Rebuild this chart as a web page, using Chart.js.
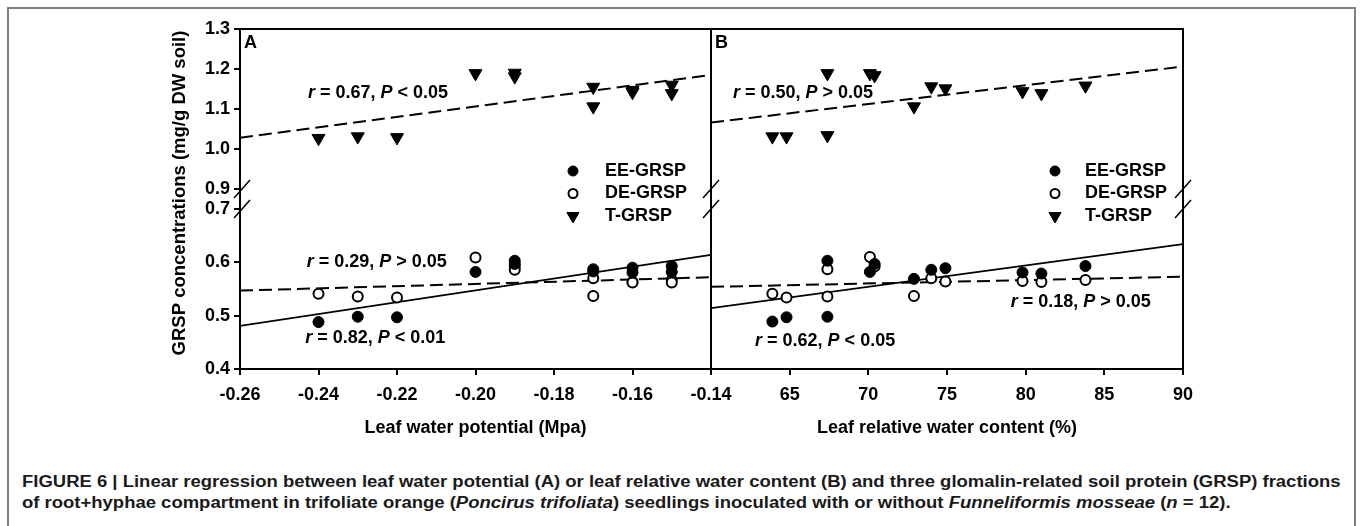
<!DOCTYPE html>
<html>
<head>
<meta charset="utf-8">
<title>GRSP regression</title>
<script src="https://cdn.jsdelivr.net/npm/chart.js@4.4.1/dist/chart.umd.min.js"></script>
<style>
  html, body { margin: 0; padding: 0; background: #fff; }
  body { width: 1360px; height: 526px; position: relative; overflow: hidden;
         font-family: "Liberation Sans", Arial, Helvetica, sans-serif; }
  #frame { position: absolute; left: 7px; top: 7px; width: 1349px; height: 540px;
           border: 2px solid #808080; border-bottom: none; box-sizing: border-box; }
  #chartA { position: absolute; left: 0; top: 0; }
  #chartB { position: absolute; left: 700px; top: 0; }
  #caption { position: absolute; left: 22px; top: 471px; font-weight: bold; font-size: 16px;
             line-height: 21px; color: #1a1a1a; white-space: nowrap;
             transform: scaleX(1.155); transform-origin: 0 0; }
</style>
</head>
<body>
<div id="frame"></div>
<canvas id="chartA" width="760" height="440"></canvas>
<canvas id="chartB" width="660" height="440"></canvas>
<div id="caption">FIGURE 6 | Linear regression between leaf water potential (A) or leaf relative water content (B) and three glomalin-related soil protein (GRSP) fractions<br>of root+hyphae compartment in trifoliate orange (<i>Poncirus trifoliata</i>) seedlings inoculated with or without <i>Funneliformis mosseae</i> (<i>n</i> = 12).</div>
<script>
// --- data ---
const lwp = [-0.24, -0.23, -0.22, -0.20, -0.19, -0.19, -0.17, -0.17, -0.16, -0.16, -0.15, -0.15];
const eeA = [0.488, 0.498, 0.497, 0.582, 0.603, 0.597, 0.587, 0.583, 0.590, 0.581, 0.593, 0.582];
const deA = [0.541, 0.536, 0.534, 0.609, 0.592, 0.586, 0.570, 0.537, 0.563, 0.562, 0.567, 0.562];
const tA  = [1.027, 1.031, 1.029, 1.189, 1.190, 1.181, 1.155, 1.106, 1.147, 1.142, 1.160, 1.139];

const rwc = [63.9, 64.8, 67.4, 67.4, 70.1, 70.4, 72.9, 74.0, 74.9, 79.8, 81.0, 83.8];
const eeB = [0.489, 0.497, 0.498, 0.603, 0.582, 0.597, 0.569, 0.586, 0.589, 0.581, 0.579, 0.593];
const deB = [0.541, 0.534, 0.536, 0.587, 0.610, 0.592, 0.537, 0.570, 0.564, 0.565, 0.563, 0.567];
const tB  = [1.031, 1.031, 1.034, 1.189, 1.189, 1.184, 1.106, 1.156, 1.151, 1.144, 1.139, 1.158];

// regression lines: value at each end of the x range
const lwpRange = [-0.26, -0.14];
const eeFitA = [0.481, 0.614];
const deFitA = [0.547, 0.572];
const tFitA  = [1.028, 1.185];
const rwcRange = [60, 90];
const eeFitB = [0.514, 0.634];
const deFitB = [0.554, 0.573];
const tFitB  = [1.066, 1.206];

const lwpTicks = [-0.26, -0.24, -0.22, -0.20, -0.18, -0.16, -0.14];
const rwcTicks = [65, 70, 75, 80, 85, 90];
const yLoTicks = [0.4, 0.5, 0.6, 0.7];
const yHiTicks = [0.9, 1.0, 1.1, 1.2, 1.3];
const seriesNames = ['EE-GRSP', 'DE-GRSP', 'T-GRSP'];

const FONT = '"Liberation Sans", Arial, Helvetica, sans-serif';
Chart.defaults.font.family = FONT;
Chart.defaults.color = '#000';

const pts = (xs, ys) => xs.map((x, i) => ({ x: x, y: ys[i] }));

function panelDatasets(xs, ee, de, t, range, eeFit, deFit, tFit) {
    return [
        { label: seriesNames[0], data: pts(xs, ee), yAxisID: 'yLo', pointStyle: 'circle', pointRadius: 5.5,
          pointBackgroundColor: '#000', pointBorderColor: '#000', pointBorderWidth: 1 },
        { label: seriesNames[1], data: pts(xs, de), yAxisID: 'yLo', pointStyle: 'circle', pointRadius: 5,
          pointBackgroundColor: '#fff', pointBorderColor: '#000', pointBorderWidth: 2 },
        { label: seriesNames[2], data: pts(xs, t), yAxisID: 'yHi', pointStyle: 'triangle', pointRotation: 180,
          pointRadius: 7.5, pointBackgroundColor: '#000', pointBorderColor: '#000', pointBorderWidth: 1 },
        { label: 'fit', data: pts(range, eeFit), yAxisID: 'yLo', showLine: true, pointRadius: 0,
          borderColor: '#000', borderWidth: 1.8 },
        { label: 'fit', data: pts(range, deFit), yAxisID: 'yLo', showLine: true, pointRadius: 0,
          borderColor: '#000', borderWidth: 2, borderDash: [13, 6] },
        { label: 'fit', data: pts(range, tFit), yAxisID: 'yHi', showLine: true, pointRadius: 0,
          borderColor: '#000', borderWidth: 2, borderDash: [13, 6] },
    ];
}

function xAxis(range, ticks, digits, title) {
    return {
        type: 'linear', position: 'bottom', min: range[0], max: range[1],
        afterBuildTicks: s => { s.ticks = ticks.map(v => ({ value: v })); },
        afterFit: s => { s.height = 71; },
        ticks: { font: { size: 18, weight: 'bold' }, padding: 9, maxRotation: 0,
                 callback: v => v.toFixed(digits) },
        grid: { drawOnChartArea: false, tickLength: 6, color: '#000', lineWidth: 2 },
        border: { display: true, color: '#000', width: 2 },
        title: { display: true, text: title, font: { size: 18, weight: 'bold' }, padding: { top: 0, bottom: 1 } }
    };
}

function yAxis(min, max, ticks, weight, show) {
    return {
        type: 'linear', position: 'left', stack: 'gr', stackWeight: weight, min: min, max: max,
        afterBuildTicks: s => { s.ticks = ticks.map(v => ({ value: v })); },
        afterFit: s => { s.width = show ? 240 : 0; },
        ticks: { display: show, font: { size: 18, weight: 'bold' }, padding: 4, callback: v => v.toFixed(1) },
        grid: { display: show, drawOnChartArea: false, tickLength: 6, color: '#000', lineWidth: 2 },
        border: { display: show, color: '#000', width: 2 }
    };
}

// frame, axis breaks, r/P notes, legend, panel letter
function decor(cfg) {
    return {
        id: 'decor',
        afterDatasetsDraw(chart) {
            const { ctx, chartArea: a, scales: s } = chart;
            ctx.save();
            ctx.strokeStyle = '#000';
            ctx.fillStyle = '#000';
            ctx.lineWidth = 2;
            ctx.beginPath();
            ctx.moveTo(a.left, a.top);
            ctx.lineTo(a.right, a.top);
            ctx.lineTo(a.right, a.bottom);
            ctx.stroke();

            ctx.lineWidth = 1.5;
            const by = [s.yHi.getPixelForValue(yHiTicks[0]), s.yLo.getPixelForValue(yLoTicks[yLoTicks.length - 1])];
            cfg.breaks.forEach(side => {
                const bx = side === 'left' ? a.left + 2 : a.right;
                by.forEach(y => {
                    ctx.beginPath();
                    ctx.moveTo(bx - 8, y + 9);
                    ctx.lineTo(bx + 8, y - 9);
                    ctx.stroke();
                });
            });

            ctx.textBaseline = 'middle';
            ctx.textAlign = 'left';
            cfg.notes.forEach(n => {
                let x = s.x.getPixelForValue(n.x);
                const y = s[n.axis].getPixelForValue(n.y);
                n.parts.forEach((p, i) => {
                    ctx.font = (i % 2 === 0 ? 'italic ' : '') + 'bold 18px ' + FONT;
                    ctx.fillText(p, x, y);
                    x += ctx.measureText(p).width;
                });
            });

            chart.data.datasets.slice(0, 3).forEach((d, i) => {
                const y = a.top + 142 + i * 22.5;
                ctx.fillStyle = d.pointBackgroundColor;
                ctx.strokeStyle = d.pointBorderColor;
                ctx.lineWidth = d.pointBorderWidth;
                Chart.helpers.drawPoint(ctx, {
                    pointStyle: d.pointStyle, rotation: d.pointRotation || 0,
                    radius: i === 1 ? 4.5 : d.pointRadius - 0.5, borderWidth: d.pointBorderWidth
                }, a.right - cfg.legendMarker, y);
                ctx.fillStyle = '#000';
                ctx.font = 'bold 18px ' + FONT;
                ctx.fillText(d.label, a.right - cfg.legendText, y);
            });

            ctx.font = 'bold 18px ' + FONT;
            ctx.fillText(cfg.letter, a.left + 4, a.top + 14);

            if (cfg.yTitle) {
                ctx.translate(a.left - 60, (a.top + a.bottom) / 2 - 6);
                ctx.rotate(-Math.PI / 2);
                ctx.textAlign = 'center';
                ctx.font = 'bold 18.5px ' + FONT;
                ctx.fillText(cfg.yTitle, 0, 0);
            }
            ctx.restore();
        }
    };
}

function makePanel(id, datasets, xScale, showY, padding, cfg) {
    return new Chart(document.getElementById(id), {
        type: 'scatter',
        data: { datasets: datasets },
        options: {
            responsive: false,
            animation: false,
            devicePixelRatio: 1,
            layout: { padding: padding, autoPadding: false },
            scales: {
                x: xScale,
                yLo: yAxis(0.4, 0.7, yLoTicks, 160, showY),
                yHi: yAxis(0.85, 1.3, yHiTicks, 180, showY)
            },
            plugins: { legend: { display: false }, tooltip: { enabled: false } }
        },
        plugins: [decor(cfg)]
    });
}

makePanel('chartA',
    panelDatasets(lwp, eeA, deA, tA, lwpRange, eeFitA, deFitA, tFitA),
    xAxis(lwpRange, lwpTicks, 2, 'Leaf water potential (Mpa)'),
    true, { left: 0, top: 29, right: 49, bottom: 0 },
    {
        letter: 'A', breaks: ['left', 'right'], legendMarker: 138, legendText: 106,
        yTitle: 'GRSP concentrations (mg/g DW soil)',
        notes: [
            { x: -0.2427, y: 1.14, axis: 'yHi', parts: ['r', ' = 0.67, ', 'P', ' < 0.05'] },
            { x: -0.243, y: 0.6006, axis: 'yLo', parts: ['r', ' = 0.29, ', 'P', ' > 0.05'] },
            { x: -0.2434, y: 0.458, axis: 'yLo', parts: ['r', ' = 0.82, ', 'P', ' < 0.01'] }
        ]
    });

makePanel('chartB',
    panelDatasets(rwc, eeB, deB, tB, rwcRange, eeFitB, deFitB, tFitB),
    xAxis(rwcRange, rwcTicks, 0, 'Leaf relative water content (%)'),
    false, { left: 11, top: 29, right: 177, bottom: 0 },
    {
        letter: 'B', breaks: ['right'], legendMarker: 128, legendText: 98,
        notes: [
            { x: 61.4, y: 1.14, axis: 'yHi', parts: ['r', ' = 0.50, ', 'P', ' > 0.05'] },
            { x: 62.8, y: 0.453, axis: 'yLo', parts: ['r', ' = 0.62, ', 'P', ' < 0.05'] },
            { x: 79.05, y: 0.526, axis: 'yLo', parts: ['r', ' = 0.18, ', 'P', ' > 0.05'] }
        ]
    });
</script>
</body>
</html>
